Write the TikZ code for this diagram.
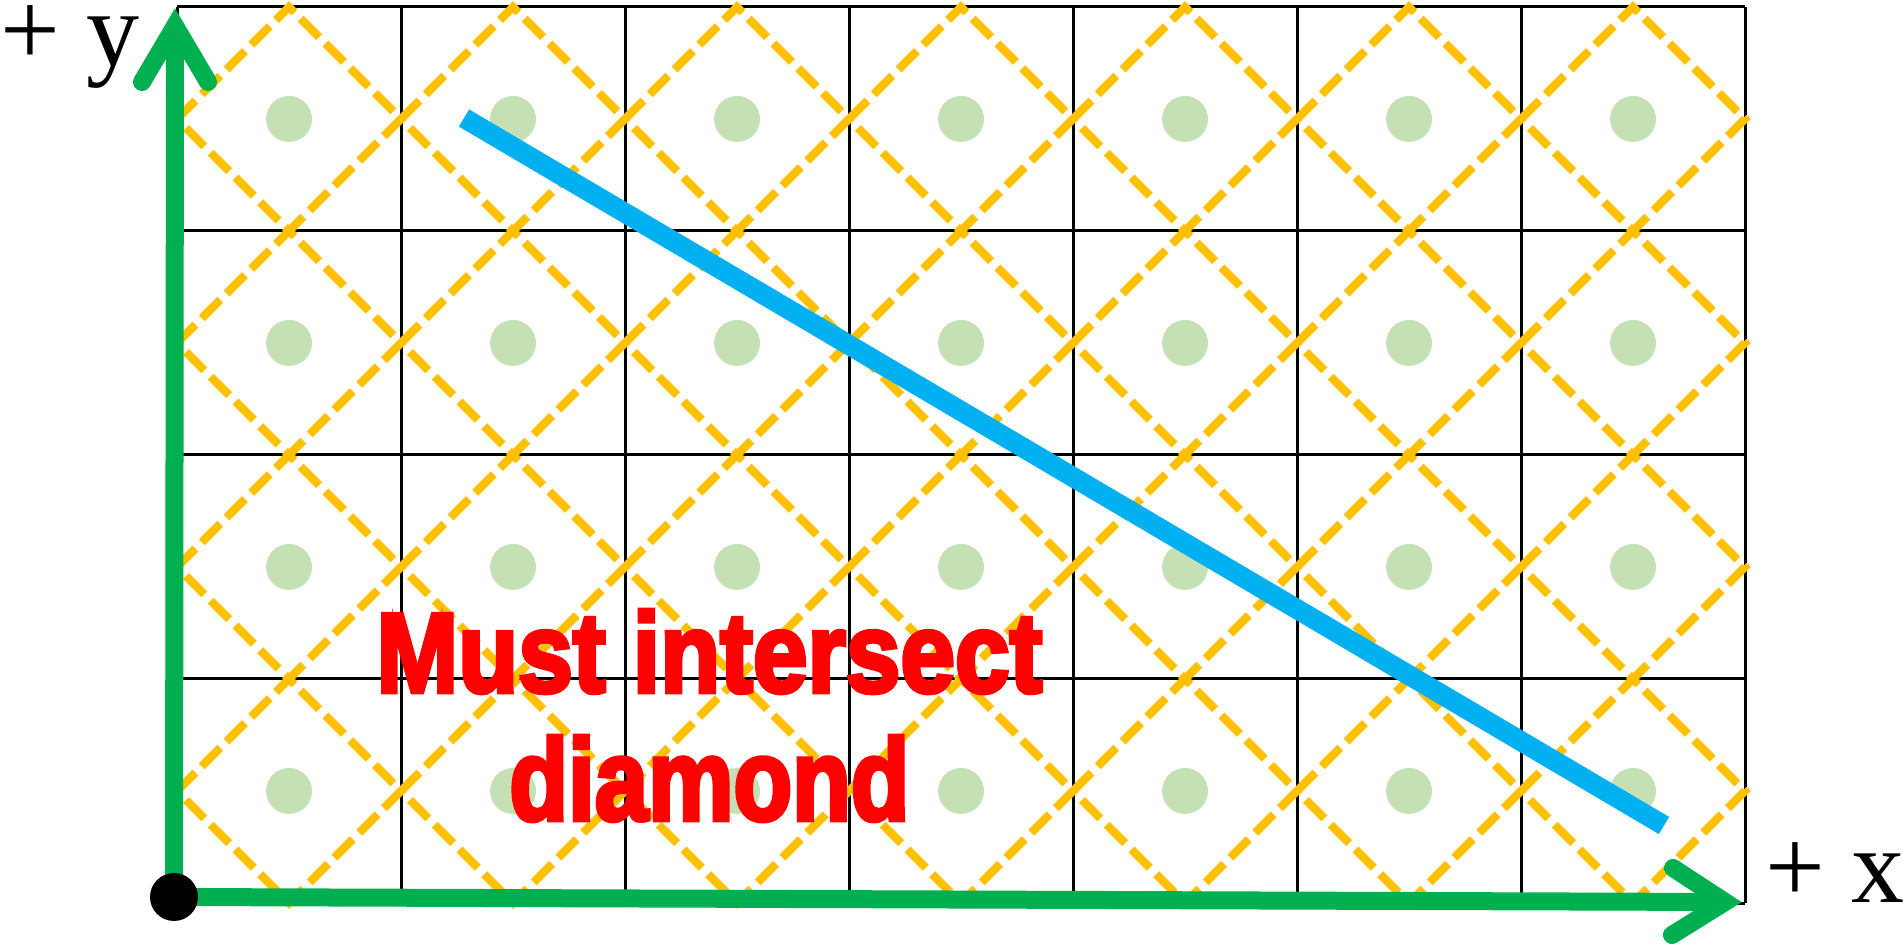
\documentclass[tikz,border=0pt]{standalone}
\usepackage{fontspec}
\usepackage{graphicx}
\setmainfont{Liberation Serif}
\newfontfamily\heavysans{Liberation Sans}[BoldFeatures={FakeBold=4}]
\usetikzlibrary{arrows.meta}
\definecolor{mygreen}{RGB}{0,176,80}
\definecolor{mylightgreen}{RGB}{197,224,180}
\definecolor{myyellow}{RGB}{255,192,0}
\definecolor{myblue}{RGB}{0,176,240}
\definecolor{myred}{RGB}{255,0,0}

\begin{document}
\begin{tikzpicture}[x=0.5pt,y=-0.5pt,
  gridline/.style={black,line width=1.5pt},
  diamondline/.style={myyellow,line width=4.2pt,dash pattern=on 13pt off 4.5pt},
  dotfill/.style={mylightgreen},
  axisline/.style={mygreen,line width=9pt},
  axishead/.style={mygreen,line width=9pt,line cap=round,miter limit=10},
  axislabel/.style={font=\fontsize{53}{60}\selectfont,inner sep=0pt,anchor=base west,text height=30pt},
  redtext/.style={myred,inner sep=0pt,anchor=base west}]
\useasboundingbox (0,0) rectangle (1903,946);
% grid of cells
\foreach \c in {0,...,7} \draw[gridline] ({177+224*\c},7) -- ({177+224*\c},903);
\foreach \r in {0,...,4} \draw[gridline] (177,{7+224*\r}) -- (1745,{7+224*\r});
% dots and dashed diamonds
\foreach \c in {0,...,6}{\foreach \r in {0,...,3}{
  \coordinate (m) at ({289+224*\c},{119+224*\r});
  \fill[dotfill] (m) circle (23);
  \draw[diamondline] (m) +(-112,0) -- +(0,-112) -- +(112,0) -- +(0,112) -- cycle;}}
% the blue segment
\coordinate (segA) at (464,118);
\coordinate (segB) at (1664,825.5);
\draw[myblue,line width=10pt] (segA) -- (segB);
% text
\node[redtext] (must) at (376,692) {\resizebox{333pt}{41pt}{\heavysans\bfseries Must intersect}};
\node[redtext] (diam) at (509,820) {\resizebox{200pt}{42pt}{\heavysans\bfseries diamond}};
% axes
\coordinate (origin) at (174,897);
\coordinate (ytip) at (175,26);
\coordinate (xtip) at (1725,902);
\draw[axisline] (origin) -- (ytip);
\draw[axisline] (origin) -- (xtip);
\draw[axishead] (ytip) ++(-33,56) -- (ytip) -- ++(33,56);
\draw[axishead] (xtip) ++(-52,-34) -- (xtip) -- ++(-53,33);
\fill (origin) circle (24);
\node[axislabel] (ylab) at (0,66) {+ y};
\node[axislabel] (xlab) at (1765,902) {+ x};
\end{tikzpicture}
\end{document}
